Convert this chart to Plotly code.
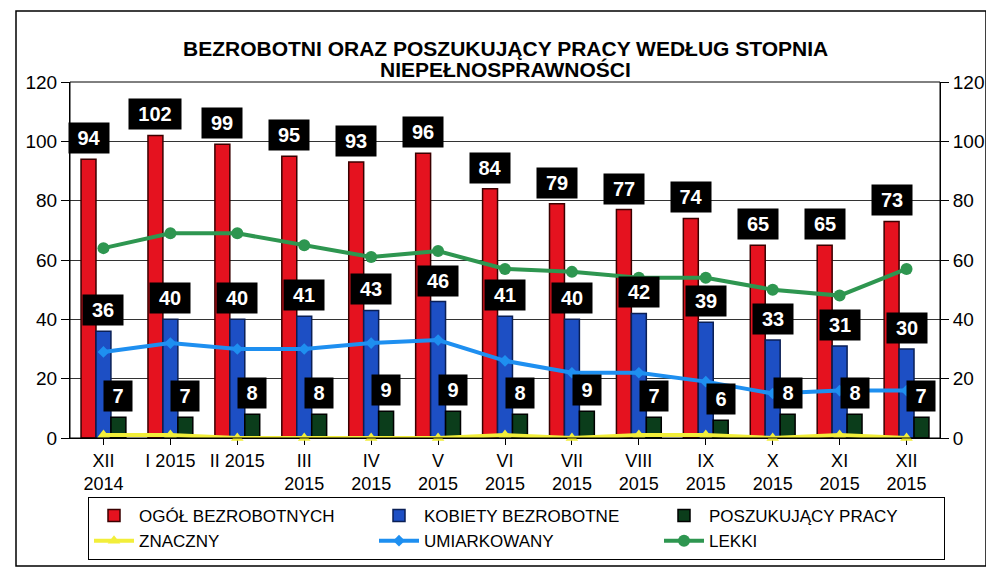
import plotly.graph_objects as go

categories = ["XII<br>2014", "I 2015", "II 2015", "III<br>2015", "IV<br>2015", "V<br>2015",
              "VI<br>2015", "VII<br>2015", "VIII<br>2015", "IX<br>2015", "X<br>2015",
              "XI<br>2015", "XII<br>2015"]
ogol = [94, 102, 99, 95, 93, 96, 84, 79, 77, 74, 65, 65, 73]
kobiety = [36, 40, 40, 41, 43, 46, 41, 40, 42, 39, 33, 31, 30]
poszukujacy = [7, 7, 8, 8, 9, 9, 8, 9, 7, 6, 8, 8, 7]
znaczny = [1, 1, 0, 0, 0, 0, 1, 0, 1, 1, 0, 1, 0]
umiarkowany = [29, 32, 30, 30, 32, 33, 26, 22, 22, 19, 15, 16, 16]
lekki = [64, 69, 69, 65, 61, 63, 57, 56, 54, 54, 50, 48, 57]
y_ticks = [0, 20, 40, 60, 80, 100, 120]

W, H = 994, 573
OFF = 8  # page body margin shifts the figure by this much
ML, MR, MT, MB = 62, 62, 74, 143
BARGAP = 0.33
NARROW = "Liberation Sans Narrow, Arial Narrow, Liberation Sans, Arial, sans-serif"
SANS = "Liberation Sans, Arial, sans-serif"
plot_w = W - ML - MR
plot_h = H - MT - MB


def px(sx):
    return (sx - OFF - ML) / plot_w


def py(sy):
    return (H - MB - (sy - OFF)) / plot_h


fig = go.Figure()
bar_specs = [
    ("OGÓŁ BEZROBOTNYCH", ogol, "#e5121f", "#3a0000"),
    ("KOBIETY BEZROBOTNE", kobiety, "#1d4fc4", "#0a1f55"),
    ("POSZUKUJĄCY PRACY", poszukujacy, "#0b3d1b", "#000000"),
]
for name, vals, col, line in bar_specs:
    fig.add_trace(go.Bar(x=categories, y=vals, name=name, marker_color=col,
                         marker_line_color=line, marker_line_width=1.5))

line_specs = [
    ("ZNACZNY", znaczny, "#f2ee3a", "triangle-up", 11),
    ("UMIARKOWANY", umiarkowany, "#1e8ff0", "diamond", 9),
    ("LEKKI", lekki, "#2e9650", "circle", 12),
]
for name, vals, col, sym, ms in line_specs:
    fig.add_trace(go.Scatter(x=categories, y=vals, name=name, mode="lines+markers",
                             line=dict(color=col, width=4), cliponaxis=False,
                             marker=dict(color=col, symbol=sym, size=ms), yaxis="y2"))

# value labels (black boxes)
band = plot_w / len(categories)
bar_px = band * (1 - BARGAP) / 3
annotations = []
for k, (name, vals, col, line) in enumerate(bar_specs):
    for cat, v in zip(categories, vals):
        annotations.append(dict(
            x=cat, y=v, xref="x", yref="y", text=f"<b>{v}</b>", showarrow=False,
            yanchor="bottom", yshift=5, xshift=(k - 1) * bar_px,
            font=dict(family=SANS, size=20, color="white"),
            width=12 * len(str(v)) + 10, height=24,
            bgcolor="black", borderpad=3))

annotations.append(dict(
    x=0.5, y=py(48), xref="paper", yref="paper", yanchor="middle",
    showarrow=False, text="<b>BEZROBOTNI ORAZ POSZUKUJĄCY PRACY WEDŁUG STOPNIA</b>",
    font=dict(family=NARROW, size=21, color="black")))
annotations.append(dict(
    x=0.5, y=py(69), xref="paper", yref="paper", yanchor="middle",
    showarrow=False, text="<b>NIEPEŁNOSPRAWNOŚCI</b>",
    font=dict(family=NARROW, size=21, color="black")))

fig.update_layout(
    width=W, height=H,
    margin=dict(l=ML, r=MR, t=MT, b=MB, autoexpand=False),
    paper_bgcolor="white", plot_bgcolor="white",
    barmode="group", bargap=BARGAP, bargroupgap=0,
    showlegend=True,
    legend=dict(orientation="h", x=px(945), xanchor="right",
                y=py(497), yanchor="top",
                entrywidth=230, entrywidthmode="pixels",
                bordercolor="black", borderwidth=1, bgcolor="white",
                font=dict(family=NARROW, size=17, color="black"),
                traceorder="normal", itemwidth=40, tracegroupgap=0),
    xaxis=dict(range=[-0.5, len(categories) - 0.5], autorange=False,
               tickfont=dict(family=NARROW, size=18, color="black"),
               showline=True, linecolor="black", ticks="outside", tickcolor="black",
               ticklen=6, mirror=False, layer="below traces"),
    yaxis=dict(range=[0, 120], tickvals=y_ticks, showgrid=True, gridcolor="#333",
               gridwidth=1, showline=True, linecolor="black", ticks="outside",
               ticklen=8, tickcolor="black",
               tickfont=dict(family=SANS, size=19, color="black"), zeroline=False),
    yaxis2=dict(range=[0, 120], tickvals=y_ticks, overlaying="y", side="right",
                showgrid=False, showline=True, linecolor="black", ticks="outside",
                ticklen=8, tickcolor="black",
                tickfont=dict(family=SANS, size=19, color="black"), zeroline=False),
    annotations=annotations,
    shapes=[dict(type="rect", xref="paper", yref="paper", x0=0, x1=1, y0=0, y1=1,
                 line=dict(color="black", width=1)),
            dict(type="rect", xref="paper", yref="paper",
                 x0=px(16), x1=px(986), y0=py(566), y1=py(11),
                 line=dict(color="black", width=1.5))],
)

fig.write_html("out.html")
